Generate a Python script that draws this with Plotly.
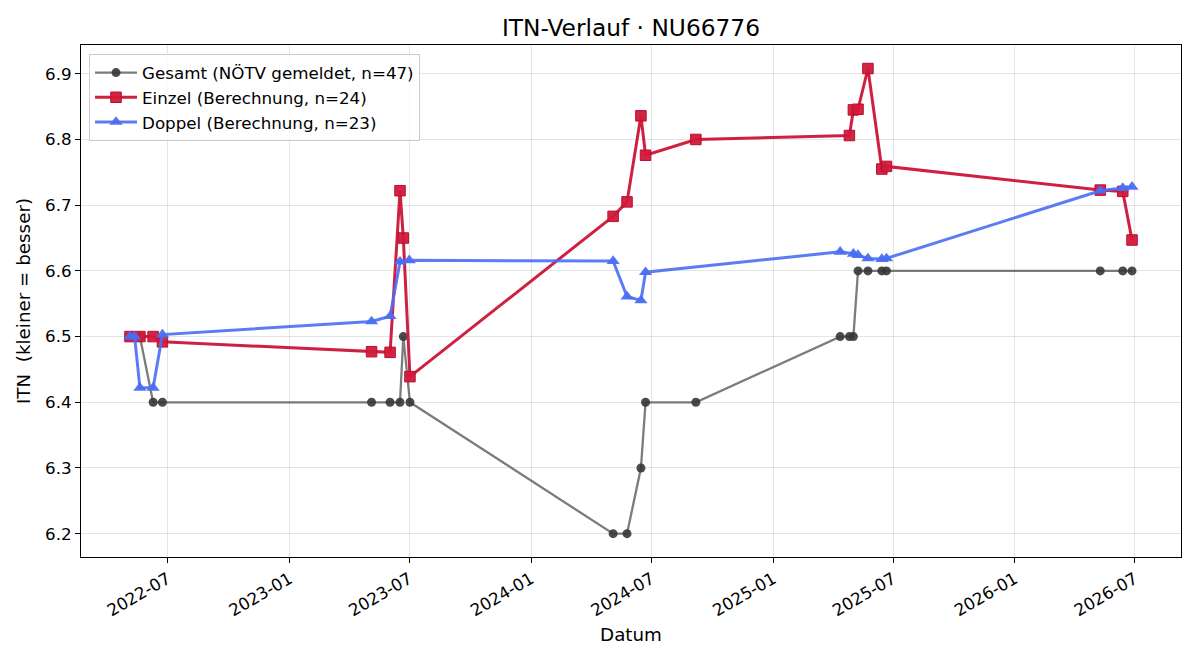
import plotly.graph_objects as go

# ---- data ----
gesamt_dates = ["2022-05-05", "2022-05-20", "2022-06-09", "2022-06-23",
                "2023-05-05", "2023-06-02", "2023-06-17", "2023-06-22", "2023-07-02",
                "2024-05-04", "2024-05-25", "2024-06-15", "2024-06-22", "2024-09-06",
                "2025-04-12", "2025-04-26", "2025-05-02", "2025-05-09", "2025-05-24",
                "2025-06-14", "2025-06-21",
                "2026-05-10", "2026-06-13", "2026-06-27"]
gesamt_itn = [6.5, 6.5, 6.4, 6.4,
              6.4, 6.4, 6.4, 6.5, 6.4,
              6.2, 6.2, 6.3, 6.4, 6.4,
              6.5, 6.5, 6.5, 6.6, 6.6,
              6.6, 6.6,
              6.6, 6.6, 6.6]

einzel_dates = ["2022-05-05", "2022-05-20", "2022-06-09", "2022-06-23",
                "2023-05-05", "2023-06-02", "2023-06-17", "2023-06-22", "2023-07-02",
                "2024-05-04", "2024-05-25", "2024-06-15", "2024-06-22", "2024-09-06",
                "2025-04-26", "2025-05-02", "2025-05-09", "2025-05-24",
                "2025-06-14", "2025-06-21",
                "2026-05-10", "2026-06-13", "2026-06-27"]
einzel_itn = [6.5, 6.5, 6.5, 6.492,
              6.477, 6.476, 6.722, 6.650, 6.439,
              6.683, 6.705, 6.836, 6.776, 6.800,
              6.806, 6.845, 6.846, 6.908,
              6.755, 6.759,
              6.723, 6.721, 6.647]

doppel_dates = ["2022-05-05", "2022-05-12", "2022-05-20", "2022-06-09", "2022-06-23",
                "2023-05-05", "2023-06-02", "2023-06-17", "2023-07-01",
                "2024-05-04", "2024-05-25", "2024-06-15", "2024-06-22",
                "2025-04-12", "2025-05-02", "2025-05-09", "2025-05-24",
                "2025-06-14", "2025-06-21",
                "2026-05-10", "2026-06-13", "2026-06-27"]
doppel_itn = [6.5, 6.5, 6.422, 6.422, 6.503,
              6.523, 6.531, 6.614, 6.616,
              6.615, 6.561, 6.555, 6.598,
              6.629, 6.626, 6.624, 6.619,
              6.618, 6.619,
              6.722, 6.726, 6.728]

tick_vals = ["2022-07-01", "2023-01-01", "2023-07-01", "2024-01-01", "2024-07-01",
             "2025-01-01", "2025-07-01", "2026-01-01", "2026-07-01"]
tick_text = ["2022-07", "2023-01", "2023-07", "2024-01", "2024-07",
             "2025-01", "2025-07", "2026-01", "2026-07"]

FONT = "DejaVu Sans"
FS = 16.7
FS_LABEL = 18.3

fig = go.Figure()
fig.add_trace(go.Scatter(
    x=gesamt_dates, y=gesamt_itn, mode="lines+markers",
    name="Gesamt (NÖTV gemeldet, n=47)",
    line=dict(color="rgba(80,80,80,0.75)", width=2.3),
    marker=dict(symbol="circle", size=9, color="rgba(55,55,55,0.9)",
                line=dict(width=0)),
))
fig.add_trace(go.Scatter(
    x=einzel_dates, y=einzel_itn, mode="lines+markers",
    name="Einzel (Berechnung, n=24)",
    line=dict(color="rgba(205,20,55,0.95)", width=3),
    marker=dict(symbol="square", size=10.5, color="rgba(210,25,60,0.95)",
                line=dict(width=1, color="rgb(185,15,45)")),
))
fig.add_trace(go.Scatter(
    x=doppel_dates, y=doppel_itn, mode="lines+markers",
    name="Doppel (Berechnung, n=23)",
    line=dict(color="rgba(75,110,242,0.9)", width=3),
    marker=dict(symbol="triangle-up", size=11.5, color="rgba(75,110,242,0.95)",
                line=dict(width=0)),
))

axis_common = dict(
    showline=True, linecolor="black", linewidth=1, mirror=True,
    ticks="outside", ticklen=5, tickcolor="black", tickwidth=1,
    showgrid=True, gridcolor="rgba(0,0,0,0.1)", gridwidth=1,
    zeroline=False,
    tickfont=dict(family=FONT, size=FS, color="black"),
)

fig.update_layout(
    width=1200, height=660,
    margin=dict(l=81, r=19, t=45, b=103),
    paper_bgcolor="white", plot_bgcolor="white",
    font=dict(family=FONT, size=FS, color="black"),
    title=dict(text="ITN-Verlauf · NU66776", x=0.5258, xanchor="center",
               y=1 - 28 / 660, yanchor="middle", yref="container",
               font=dict(family=FONT, size=23.3, color="black")),
    xaxis=dict(**axis_common, type="date",
               range=["2022-02-20", "2026-09-09"],
               tickvals=tick_vals, ticktext=tick_text, tickangle=-30,
               title=dict(text="Datum", font=dict(family=FONT, size=FS_LABEL), standoff=8)),
    yaxis=dict(**axis_common, range=[6.1645, 6.9438],
               tickvals=[6.2, 6.3, 6.4, 6.5, 6.6, 6.7, 6.8, 6.9],
               ticktext=["6.2", "6.3", "6.4", "6.5", "6.6", "6.7", "6.8", "6.9"],
               title=dict(text="ITN  (kleiner = besser)", font=dict(family=FONT, size=FS_LABEL),
                          standoff=9)),
    legend=dict(x=0.0073, y=0.982, xanchor="left", yanchor="top",
                bgcolor="rgba(255,255,255,0.8)", bordercolor="#cccccc", borderwidth=1,
                font=dict(family=FONT, size=FS, color="black"),
                tracegroupgap=0, itemwidth=42),
    showlegend=True,
)

fig.write_html("out.html")
